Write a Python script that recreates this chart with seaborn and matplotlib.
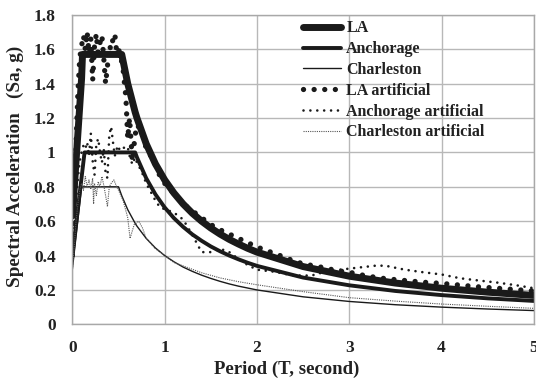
import matplotlib
matplotlib.use("Agg")
import matplotlib.pyplot as plt
import seaborn as sns
import pandas as pd

# Design response spectra (target)
t_design = [0.0, 0.1, 0.11, 0.132, 0.5, 0.535, 0.6, 0.68, 0.7, 0.8, 0.9, 1.0, 1.1, 1.2, 1.3,
            1.4, 1.5, 1.6, 1.7, 1.8, 1.9, 2.0, 2.5, 3.0, 3.5, 4.0, 4.5, 5.0]
la_design = [0.63, 1.43, 1.57, 1.57, 1.57, 1.57, 1.40, 1.235, 1.20, 1.05, 0.933, 0.84, 0.764, 0.70,
             0.646, 0.60, 0.56, 0.525, 0.494, 0.467, 0.442, 0.42, 0.336, 0.28, 0.24, 0.21, 0.187, 0.168]
anch_design = [0.40, 0.855, 0.90, 1.0, 1.0, 1.0, 1.0, 1.0, 0.971, 0.85, 0.756, 0.68, 0.618, 0.567,
               0.523, 0.486, 0.453, 0.425, 0.40, 0.378, 0.358, 0.34, 0.272, 0.227, 0.194, 0.17, 0.151, 0.136]
charl_design = [0.32, 0.80, 0.80, 0.80, 0.80, 0.748, 0.667, 0.588, 0.571, 0.50, 0.444, 0.40, 0.364,
                0.333, 0.308, 0.286, 0.267, 0.25, 0.235, 0.222, 0.211, 0.20, 0.16, 0.133, 0.114, 0.10,
                0.089, 0.08]

# Response spectra of the artificial ground motions
t_la_art = [0.00, 0.02, 0.04, 0.06, 0.08, 0.10, 0.12, 0.14, 0.16, 0.18, 0.20, 0.22, 0.24, 0.26,
            0.28, 0.30, 0.32, 0.34, 0.36, 0.38, 0.40, 0.42, 0.44, 0.46, 0.48, 0.50, 0.52, 0.55,
            0.58, 0.60, 0.62, 0.65, 0.68, 0.70, 0.73, 0.76, 0.80, 0.85, 0.90, 0.95, 1.0, 1.1,
            1.2, 1.3, 1.4, 1.5, 1.6, 1.7, 1.8, 1.9, 2.0, 2.1, 2.2, 2.3, 2.4, 2.5, 2.6, 2.7, 2.8,
            2.9, 3.0, 3.2, 3.4, 3.6, 3.8, 4.0, 4.2, 4.4, 4.6, 4.8, 5.0]
la_art = [0.40, 0.75, 1.05, 1.35, 1.55, 1.62, 1.68, 1.60, 1.70, 1.58, 1.66, 1.42, 1.62, 1.69,
          1.55, 1.64, 1.68, 1.55, 1.40, 1.50, 1.62, 1.60, 1.66, 1.69, 1.58, 1.60, 1.57, 1.48,
          1.32, 1.08, 1.20, 0.95, 1.10, 1.16, 1.14, 1.12, 1.02, 0.98, 0.93, 0.86, 0.82, 0.76,
          0.70, 0.66, 0.62, 0.58, 0.55, 0.525, 0.50, 0.475, 0.45, 0.43, 0.41, 0.39, 0.368, 0.352,
          0.342, 0.332, 0.32, 0.31, 0.303, 0.28, 0.265, 0.255, 0.245, 0.238, 0.228, 0.218, 0.21,
          0.202, 0.194]

t_anch_art = [0.00, 0.02, 0.04, 0.06, 0.08, 0.10, 0.12, 0.14, 0.16, 0.18, 0.20, 0.22, 0.24, 0.26,
              0.28, 0.30, 0.32, 0.34, 0.36, 0.38, 0.40, 0.42, 0.44, 0.46, 0.48, 0.50, 0.52, 0.55,
              0.58, 0.60, 0.62, 0.65, 0.68, 0.70, 0.75, 0.80, 0.85, 0.90, 0.95, 1.0, 1.1, 1.2,
              1.3, 1.4, 1.5, 1.6, 1.7, 1.8, 1.9, 2.0, 2.2, 2.36, 2.5, 2.6, 2.7, 2.9, 3.1, 3.3,
              3.4, 3.6, 3.8, 4.0, 4.2, 4.4, 4.6, 4.8, 5.0]
anch_art = [0.40, 0.55, 0.72, 0.85, 0.95, 1.00, 1.04, 1.02, 1.06, 0.98, 1.11, 0.95, 0.87, 1.05,
            1.08, 1.00, 0.94, 1.02, 0.88, 0.85, 1.10, 1.15, 1.06, 0.98, 1.02, 1.04, 0.99, 1.03,
            1.02, 1.03, 0.98, 0.93, 0.97, 0.94, 0.89, 0.82, 0.77, 0.72, 0.68, 0.67, 0.65, 0.61,
            0.52, 0.42, 0.42, 0.44, 0.42, 0.38, 0.345, 0.318, 0.305, 0.287, 0.283, 0.285, 0.30,
            0.318, 0.33, 0.342, 0.34, 0.318, 0.303, 0.29, 0.268, 0.255, 0.243, 0.228, 0.21]

t_charl_art = [0.00, 0.02, 0.04, 0.06, 0.08, 0.10, 0.12, 0.14, 0.16, 0.18, 0.20, 0.22, 0.23, 0.24,
               0.26, 0.28, 0.30, 0.32, 0.34, 0.36, 0.38, 0.40, 0.42, 0.45, 0.48, 0.50, 0.55, 0.60,
               0.625, 0.67, 0.72, 0.76, 0.80, 0.85, 0.90, 1.0, 1.1, 1.2, 1.4, 1.6, 1.8, 2.0, 2.5,
               3.0, 3.5, 4.0, 4.5, 5.0]
charl_art = [0.32, 0.45, 0.60, 0.70, 0.78, 0.82, 0.78, 0.86, 0.80, 0.84, 0.79, 0.85, 0.70, 0.82,
             0.75, 0.83, 0.80, 0.86, 0.81, 0.75, 0.685, 0.80, 0.82, 0.84, 0.80, 0.78, 0.72, 0.62,
             0.50, 0.58, 0.60, 0.56, 0.50, 0.47, 0.44, 0.40, 0.36, 0.34, 0.30, 0.27, 0.248, 0.23,
             0.19, 0.155, 0.135, 0.118, 0.105, 0.093]

x_ticks = [0, 1, 2, 3, 4, 5]
y_ticks = [0, 0.2, 0.4, 0.6, 0.8, 1.0, 1.2, 1.4, 1.6, 1.8]
y_tick_labels = ["0", "0.2", "0.4", "0.6", "0.8", "1", "1.2", "1.4", "1.6", "1.8"]

sns.set_theme(style="white")
plt.rcParams["font.family"] = ["Liberation Serif", "DejaVu Serif"]
plt.rcParams["font.weight"] = "bold"

fig = plt.figure(figsize=(5.36, 3.82), dpi=100)
ax = fig.add_axes([0.135, 0.151, 0.861, 0.810])

ink = "#1a1a1a"
series = [
    (t_design, la_design, "LA", dict(lw=5.0, linestyle="-", solid_capstyle="round")),
    (t_design, anch_design, "Anchorage", dict(lw=2.8, linestyle="-")),
    (t_design, charl_design, "Charleston", dict(lw=1.0, linestyle="-")),
    (t_la_art, la_art, "LA artificial",
     dict(lw=3.8, linestyle=(0, (0.01, 2.0)), dash_capstyle="round")),
    (t_anch_art, anch_art, "Anchorage artificial",
     dict(lw=1.9, linestyle=(0, (0.01, 2.6)), dash_capstyle="round")),
    (t_charl_art, charl_art, "Charleston artificial",
     dict(lw=0.8, linestyle=(0, (1, 1)), color="#555555")),
]
for t, v, name, style in series:
    kw = dict(color=ink)
    kw.update(style)
    df = pd.DataFrame({"T": t, "Sa": v})
    sns.lineplot(data=df, x="T", y="Sa", ax=ax, label=name, sort=False, **kw)

ax.set_xlim(0, 5)
ax.set_ylim(0, 1.8)
ax.set_xticks(x_ticks)
ax.set_xticklabels([str(v) for v in x_ticks])
ax.set_yticks(y_ticks)
ax.set_yticklabels(y_tick_labels)
ax.tick_params(axis="both", length=0, labelsize=12.5, colors="#222222")
ax.tick_params(axis="x", pad=11)
ax.tick_params(axis="y", pad=12)
for lab in ax.get_xticklabels() + ax.get_yticklabels():
    lab.set_fontweight("bold")

ax.grid(True, color="#b8b8b8", lw=1.0)
ax.set_axisbelow(True)
for sp in ax.spines.values():
    sp.set_color("#a8a8a8")
    sp.set_linewidth(1.0)

ax.set_xlabel("Period (T, second)", fontsize=13.5, fontweight="bold", color="#222222")
ax.xaxis.set_label_coords(0.465, -0.118)
ax.set_ylabel("Spectral Acceleration   (Sa, g)", fontsize=13.8, fontweight="bold", color="#222222")
ax.yaxis.set_label_coords(-0.105, 0.51)

leg = ax.legend(loc="upper left", bbox_to_anchor=(0.5, 0.982), frameon=False,
                fontsize=11.5, handlelength=2.4, handletextpad=0.3, labelspacing=0.3,
                borderpad=0, borderaxespad=0)
for txt in leg.get_texts():
    txt.set_fontweight("bold")
    txt.set_color("#222222")

fig.savefig("out.png", dpi=100)
